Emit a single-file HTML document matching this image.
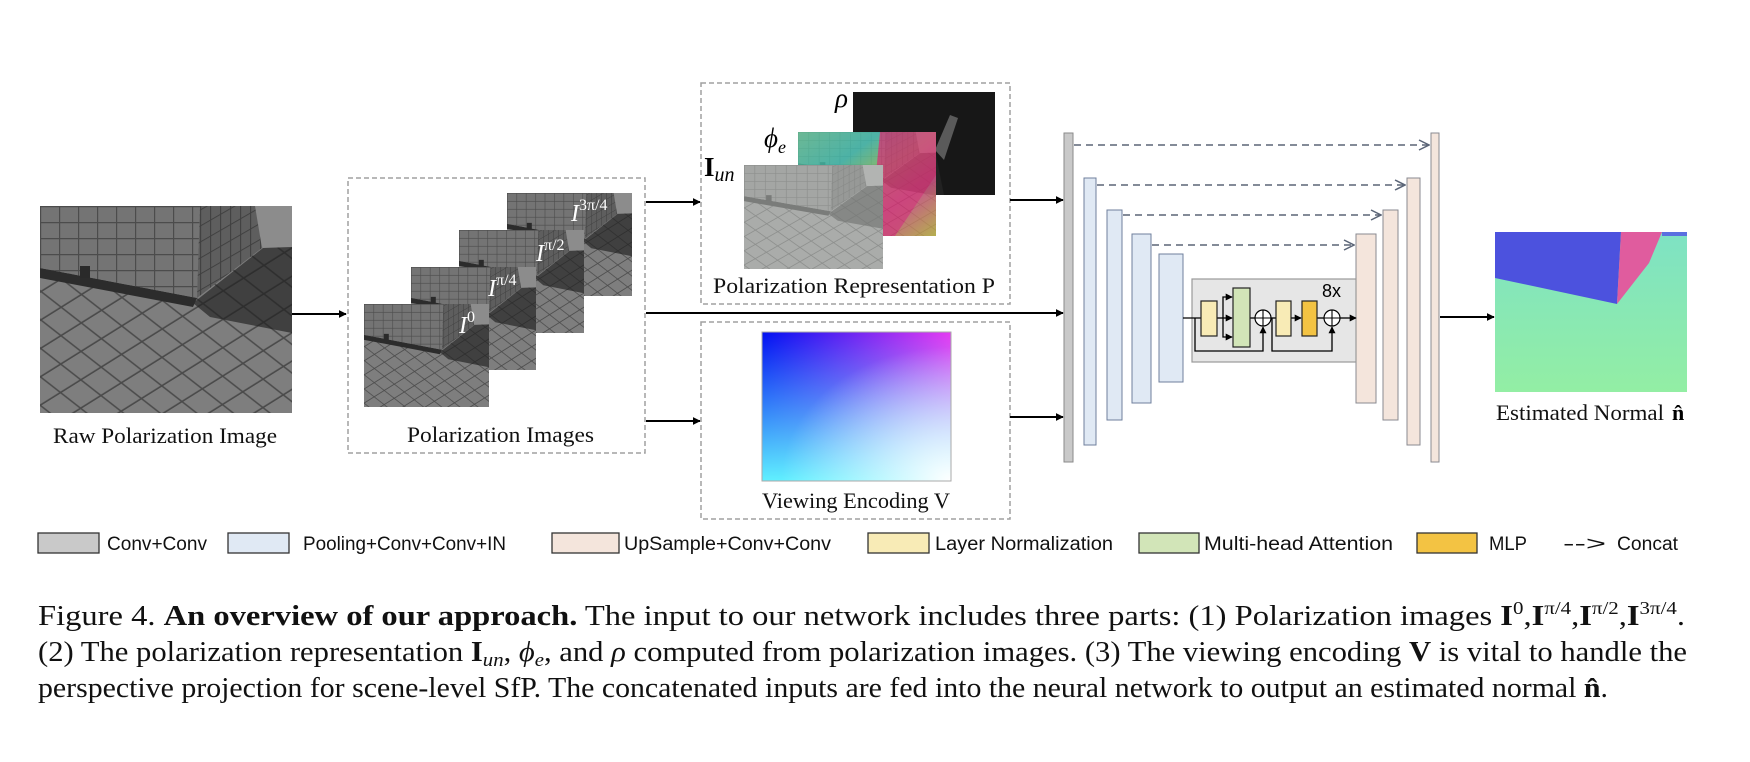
<!DOCTYPE html>
<html><head><meta charset="utf-8"><style>
html,body{margin:0;padding:0;background:#fff;width:1750px;height:762px;overflow:hidden}
svg{display:block}
.lab{font-family:"Liberation Serif",serif;font-size:22px;fill:#111}
.leg{font-family:"Liberation Sans",sans-serif;font-size:19px;fill:#111}
.cap{font-family:"Liberation Serif",serif;font-size:28px;fill:#111}
.m{font-family:"Liberation Serif",serif;font-style:italic}
</style></head><body>
<svg width="1750" height="762" viewBox="0 0 1750 762" xmlns="http://www.w3.org/2000/svg">
<defs>
<marker id="ah" viewBox="0 0 10 10" refX="9" refY="5" markerWidth="8" markerHeight="8" markerUnits="userSpaceOnUse" orient="auto"><path d="M0,0 L10,5 L0,10 z" fill="#000"/></marker>
<marker id="ahs" viewBox="0 0 10 10" refX="9" refY="5" markerWidth="7" markerHeight="7" markerUnits="userSpaceOnUse" orient="auto"><path d="M0,0 L10,5 L0,10 z" fill="#000"/></marker>
<marker id="ch" viewBox="0 0 12 12" refX="11" refY="6" markerWidth="12" markerHeight="12" markerUnits="userSpaceOnUse" orient="auto"><path d="M1,1 L11,6 L1,11" fill="none" stroke="#5b6577" stroke-width="1.5"/></marker>
<pattern id="wallg" width="19" height="16" patternUnits="userSpaceOnUse"><rect width="19" height="16" fill="#747474"/><path d="M0,0.5 H19 M0.5,0 V16" stroke="#4c4c4c" stroke-width="1.4"/></pattern>
<pattern id="sideg" width="10" height="16" patternUnits="userSpaceOnUse" patternTransform="skewY(-30)"><rect width="10" height="16" fill="#5e5e5e"/><path d="M0,0.5 H10 M0.5,0 V16" stroke="#404040" stroke-width="1.2"/></pattern>
<pattern id="floorg" width="24" height="24" patternUnits="userSpaceOnUse" patternTransform="rotate(-32) skewX(20)"><rect width="24" height="24" fill="#7e7e7e"/><path d="M0,1 H24 M1,0 V24" stroke="#4a4a4a" stroke-width="1.6"/></pattern>
<pattern id="shadg" width="24" height="24" patternUnits="userSpaceOnUse" patternTransform="rotate(-32) skewX(20)"><rect width="24" height="24" fill="#404040"/><path d="M0,1 H24 M1,0 V24" stroke="#2e2e2e" stroke-width="1.6"/></pattern>
<symbol id="scene" viewBox="0 0 252 207" preserveAspectRatio="none">
 <rect width="252" height="207" fill="url(#floorg)"/>
 <polygon points="200,0 252,0 252,41 223,42" fill="#8c8c8c"/>
 <polygon points="153,97 223,42 252,41 252,127 170,111" fill="url(#shadg)"/>
 <polygon points="0,62 157,92 153,101 0,72" fill="#2c2c2c"/>
 <polygon points="0,0 160,0 157,92 0,62" fill="url(#wallg)"/>
 <polygon points="160,0 215,0 222,42 157,92" fill="url(#sideg)"/>
 <rect x="40" y="60" width="10" height="12" fill="#2a2a2a"/>
</symbol>
<linearGradient id="phig" x1="0" y1="0" x2="1" y2="1"><stop offset="0" stop-color="#6ad0a0"/><stop offset="0.3" stop-color="#40c8b8"/><stop offset="0.5" stop-color="#9ad060"/><stop offset="0.7" stop-color="#e04890"/><stop offset="1" stop-color="#c8c040"/></linearGradient>
<linearGradient id="vh" x1="0" y1="0" x2="1" y2="0"><stop offset="0" stop-color="#0010f2"/><stop offset="1" stop-color="#e63af2"/></linearGradient>
<linearGradient id="vv" x1="0" y1="0" x2="0" y2="1"><stop offset="0" stop-color="#60f0ff" stop-opacity="0"/><stop offset="1" stop-color="#60f0ff" stop-opacity="1"/></linearGradient>
<radialGradient id="vw" cx="1" cy="1" r="0.9"><stop offset="0" stop-color="#fff" stop-opacity="1"/><stop offset="1" stop-color="#fff" stop-opacity="0"/></radialGradient>
<linearGradient id="nf" x1="0" y1="0" x2="0" y2="1"><stop offset="0" stop-color="#7ee2c4"/><stop offset="1" stop-color="#93eea4"/></linearGradient>
</defs>

<use href="#scene" x="40" y="206" width="252" height="207"/>
<text class="lab" x="53" y="443" textLength="224" lengthAdjust="spacingAndGlyphs">Raw Polarization Image</text>
<line x1="292" y1="314" x2="346" y2="314" stroke="#000" stroke-width="2" marker-end="url(#ah)"/>

<rect x="348" y="178" width="297" height="275" fill="none" stroke="#a0a0a0" stroke-width="1.5" stroke-dasharray="5 3"/>
<use href="#scene" x="507" y="193" width="125" height="103"/>
<use href="#scene" x="459" y="230" width="125" height="103"/>
<use href="#scene" x="411" y="267" width="125" height="103"/>
<use href="#scene" x="364" y="304" width="125" height="103"/>
<text class="m" x="571" y="221" font-size="24" fill="#fff">I<tspan font-size="16" dy="-11" font-style="normal">3π/4</tspan></text>
<text class="m" x="536" y="261" font-size="24" fill="#fff">I<tspan font-size="16" dy="-11" font-style="normal">π/2</tspan></text>
<text class="m" x="488" y="296" font-size="24" fill="#fff">I<tspan font-size="16" dy="-11" font-style="normal">π/4</tspan></text>
<text class="m" x="459" y="333" font-size="24" fill="#fff">I<tspan font-size="16" dy="-11" font-style="normal">0</tspan></text>
<text class="lab" x="407" y="442" textLength="187" lengthAdjust="spacingAndGlyphs">Polarization Images</text>

<line x1="646" y1="202" x2="700" y2="202" stroke="#000" stroke-width="2" marker-end="url(#ah)"/>
<line x1="646" y1="313" x2="1063" y2="313" stroke="#000" stroke-width="2" marker-end="url(#ah)"/>
<line x1="646" y1="421" x2="700" y2="421" stroke="#000" stroke-width="2" marker-end="url(#ah)"/>

<rect x="701" y="83" width="309" height="221" fill="none" stroke="#a0a0a0" stroke-width="1.5" stroke-dasharray="5 3"/>
<rect x="853" y="92" width="142" height="103" fill="#171717"/>
<polygon points="935,150 950,115 958,118 944,160" fill="#5a5a5a"/>
<polygon points="853,140 935,150 944,195 853,195" fill="#222"/>
<rect x="798" y="132" width="138" height="104" fill="url(#phig)"/>
<polygon points="880,132 936,132 936,175 895,236 870,236" fill="#e8307a" opacity="0.85"/>
<use href="#scene" x="798" y="132" width="138" height="104" opacity="0.25"/>
<use href="#scene" x="744" y="165" width="139" height="104"/>
<rect x="744" y="165" width="139" height="104" fill="#e6ece8" opacity="0.42"/>
<text class="m" x="835" y="107" font-size="27">ρ</text>
<text class="m" x="764" y="147" font-size="27">ϕ<tspan font-size="18" dy="6">e</tspan></text>
<text x="704" y="176" font-family="Liberation Serif,serif" font-size="27" font-weight="bold">I<tspan class="m" font-weight="normal" font-size="20" dy="5">un</tspan></text>
<text class="lab" x="713" y="293" textLength="282" lengthAdjust="spacingAndGlyphs">Polarization Representation P</text>

<rect x="701" y="322" width="309" height="197" fill="none" stroke="#a0a0a0" stroke-width="1.5" stroke-dasharray="5 3"/>
<rect x="762" y="332" width="189" height="149" fill="url(#vh)"/>
<rect x="762" y="332" width="189" height="149" fill="url(#vv)"/>
<rect x="762" y="332" width="189" height="149" fill="url(#vw)"/>
<rect x="762" y="332" width="189" height="149" fill="none" stroke="#aaa" stroke-width="1"/>
<text class="lab" x="762" y="508" textLength="188" lengthAdjust="spacingAndGlyphs">Viewing Encoding V</text>

<line x1="1010" y1="200" x2="1063" y2="200" stroke="#000" stroke-width="2" marker-end="url(#ah)"/>
<line x1="1010" y1="417" x2="1063" y2="417" stroke="#000" stroke-width="2" marker-end="url(#ah)"/>

<rect x="1064" y="133" width="9" height="329" fill="#c9c9c9" stroke="#8a8a8a"/>
<rect x="1084" y="178" width="12" height="267" fill="#e0e9f4" stroke="#6f7f9c"/>
<rect x="1107" y="210" width="15" height="210" fill="#e0e9f4" stroke="#6f7f9c"/>
<rect x="1132" y="234" width="19" height="169" fill="#e0e9f4" stroke="#6f7f9c"/>
<rect x="1159" y="254" width="24" height="128" fill="#e0e9f4" stroke="#6f7f9c"/>
<rect x="1356" y="234" width="20" height="169" fill="#f4e5dc" stroke="#8a8a90"/>
<rect x="1383" y="210" width="15" height="210" fill="#f4e5dc" stroke="#8a8a90"/>
<rect x="1407" y="178" width="13" height="267" fill="#f4e5dc" stroke="#8a8a90"/>
<rect x="1431" y="133" width="8" height="329" fill="#f4e5dc" stroke="#8a8a90"/>
<g stroke="#5b6577" stroke-width="1.6" stroke-dasharray="7 5" fill="none">
<line x1="1074" y1="145" x2="1429" y2="145" marker-end="url(#ch)"/>
<line x1="1097" y1="185" x2="1405" y2="185" marker-end="url(#ch)"/>
<line x1="1123" y1="215" x2="1381" y2="215" marker-end="url(#ch)"/>
<line x1="1152" y1="245" x2="1354" y2="245" marker-end="url(#ch)"/>
</g>

<rect x="1192" y="279" width="164" height="83" fill="#e6e6e6" stroke="#999" stroke-width="1.2"/>
<text x="1322" y="297" font-family="Liberation Sans,sans-serif" font-size="18" fill="#000">8x</text>
<g stroke="#000" stroke-width="1.3" fill="none">
<line x1="1183" y1="318" x2="1201" y2="318"/>
<polyline points="1195,318 1195,351 1263,351 1263,327" marker-end="url(#ahs)"/>
<line x1="1217" y1="318" x2="1232" y2="318" marker-end="url(#ahs)"/>
<polyline points="1223,318 1223,297 1232,297" marker-end="url(#ahs)"/>
<polyline points="1223,318 1223,337 1232,337" marker-end="url(#ahs)"/>
<line x1="1250" y1="318" x2="1255" y2="318"/>
<line x1="1271" y1="318" x2="1276" y2="318"/>
<polyline points="1272,318 1272,351 1332,351 1332,327" marker-end="url(#ahs)"/>
<line x1="1291" y1="318" x2="1301" y2="318" marker-end="url(#ahs)"/>
<line x1="1317" y1="318" x2="1324" y2="318"/>
<line x1="1340" y1="318" x2="1356" y2="318" marker-end="url(#ahs)"/>
</g>
<rect x="1201" y="301" width="16" height="35" fill="#f8ebb6" stroke="#222" stroke-width="1.2"/>
<rect x="1233" y="288" width="17" height="59" fill="#d2e5b8" stroke="#222" stroke-width="1.2"/>
<rect x="1276" y="301" width="15" height="35" fill="#f8ebb6" stroke="#222" stroke-width="1.2"/>
<rect x="1302" y="301" width="15" height="35" fill="#f3c343" stroke="#222" stroke-width="1.2"/>
<g fill="#fff" stroke="#000" stroke-width="1.2">
<circle cx="1263" cy="318" r="8"/><circle cx="1332" cy="318" r="8"/></g>
<path d="M1255,318 H1271 M1263,310 V326 M1324,318 H1340 M1332,310 V326" stroke="#000" stroke-width="1.1"/>

<line x1="1440" y1="317" x2="1494" y2="317" stroke="#000" stroke-width="2" marker-end="url(#ah)"/>

<rect x="1495" y="232" width="192" height="160" fill="url(#nf)"/>
<polygon points="1495,232 1621,232 1617,304 1495,278" fill="#4c52de"/>
<polygon points="1621,232 1662,232 1649,263 1617,304" fill="#e05c9e"/>
<rect x="1662" y="232" width="25" height="4" fill="#5a70e0"/>
<text class="lab" x="1496" y="420" textLength="168" lengthAdjust="spacingAndGlyphs">Estimated Normal</text>
<text x="1672" y="420" font-family="Liberation Serif,serif" font-size="22" font-weight="bold">n̂</text>

<g stroke="#333" stroke-width="1.3">
<rect x="38" y="533" width="61" height="20" fill="#c9c9c9"/>
<rect x="228" y="533" width="61" height="20" fill="#e0e9f4"/>
<rect x="552" y="533" width="67" height="20" fill="#f4e5dc"/>
<rect x="868" y="533" width="61" height="20" fill="#f8ebb6"/>
<rect x="1139" y="533" width="60" height="20" fill="#d2e5b8"/>
<rect x="1417" y="533" width="60" height="20" fill="#f3c343"/>
</g>
<text class="leg" x="107" y="550" textLength="100" lengthAdjust="spacingAndGlyphs">Conv+Conv</text>
<text class="leg" x="303" y="550" textLength="203" lengthAdjust="spacingAndGlyphs">Pooling+Conv+Conv+IN</text>
<text class="leg" x="624" y="550" textLength="207" lengthAdjust="spacingAndGlyphs">UpSample+Conv+Conv</text>
<text class="leg" x="935" y="550" textLength="178" lengthAdjust="spacingAndGlyphs">Layer Normalization</text>
<text class="leg" x="1204" y="550" textLength="189" lengthAdjust="spacingAndGlyphs">Multi-head Attention</text>
<text class="leg" x="1489" y="550" textLength="38" lengthAdjust="spacingAndGlyphs">MLP</text>
<text class="leg" x="1563" y="550" textLength="43" lengthAdjust="spacingAndGlyphs">--&gt;</text>
<text class="leg" x="1617" y="550" textLength="61" lengthAdjust="spacingAndGlyphs">Concat</text>

<text class="cap" x="38" y="625" textLength="1647" lengthAdjust="spacingAndGlyphs">Figure 4.  <tspan font-weight="bold">An overview of our approach.</tspan>  The input to our network includes three parts: (1) Polarization images <tspan font-weight="bold">I</tspan><tspan font-size="18" dy="-11">0</tspan><tspan dy="11">,</tspan><tspan font-weight="bold">I</tspan><tspan font-size="18" dy="-11">π/4</tspan><tspan dy="11">,</tspan><tspan font-weight="bold">I</tspan><tspan font-size="18" dy="-11">π/2</tspan><tspan dy="11">,</tspan><tspan font-weight="bold">I</tspan><tspan font-size="18" dy="-11">3π/4</tspan><tspan dy="11">.</tspan></text>
<text class="cap" x="38" y="661" textLength="1649" lengthAdjust="spacingAndGlyphs">(2) The polarization representation <tspan font-weight="bold">I</tspan><tspan font-size="19" font-style="italic" dy="5">un</tspan><tspan dy="-5">, </tspan><tspan font-style="italic">ϕ</tspan><tspan font-size="19" font-style="italic" dy="5">e</tspan><tspan dy="-5">, and </tspan><tspan font-style="italic">ρ</tspan> computed from polarization images. (3) The viewing encoding <tspan font-weight="bold">V</tspan> is vital to handle the</text>
<text class="cap" x="38" y="697" textLength="1570" lengthAdjust="spacingAndGlyphs">perspective projection for scene-level SfP. The concatenated inputs are fed into the neural network to output an estimated normal <tspan font-weight="bold">n̂</tspan>.</text>
</svg>
</body></html>
